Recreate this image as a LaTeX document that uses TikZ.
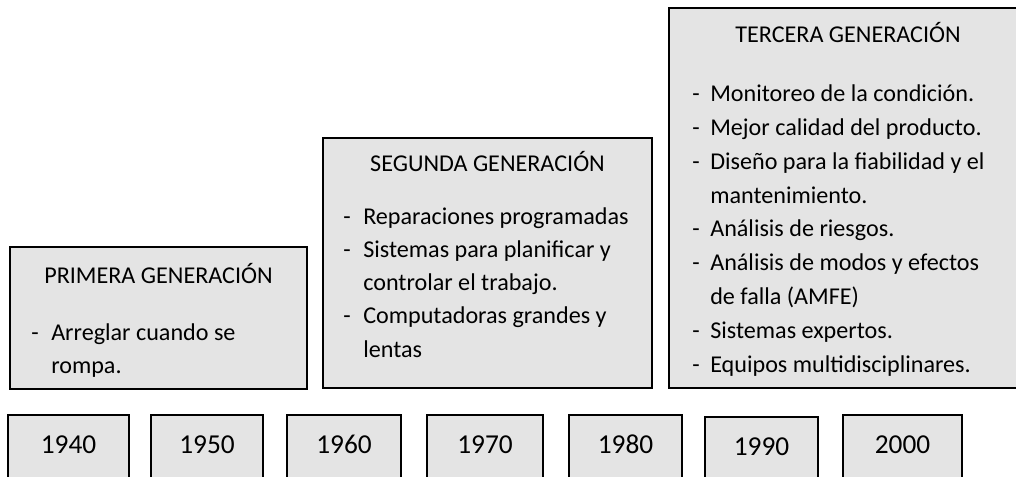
\documentclass[tikz,border=0pt]{standalone}
\usepackage{fontspec}
\setmainfont{Carlito}
\definecolor{boxfill}{RGB}{228,228,228}
\begin{document}
\begin{tikzpicture}[x=0.75pt,y=-0.75pt,
  gbox/.style={draw=black,line width=1.5pt,fill=boxfill},
  txt/.style={font=\fontsize{18.1}{21}\selectfont,inner sep=0pt,anchor=base west},
  ttl/.style={font=\fontsize{18.1}{21}\selectfont,inner sep=0pt,anchor=base},
  yr/.style={font=\fontsize{20.5}{24}\selectfont,inner sep=0pt,anchor=base}]
\clip (0,0) rectangle (1016,477);
\fill[white] (0,0) rectangle (1016,477);

% generation boxes
\draw[gbox] (10,247) rectangle (307,389);
\draw[gbox] (323,138) rectangle (652,388);
\draw[gbox] (669,8) rectangle (1040,388);

% Primera
\node[ttl] (p0) at (158.5,283) {PRIMERA GENERACIÓN};
\node[txt] (pd1) at (31,340) {-};
\node[txt] (p1) at (51,340) {Arreglar cuando se};
\node[txt] (p2) at (51,373) {rompa.};

% Segunda
\node[ttl] (s0) at (487.5,172) {SEGUNDA GENERACIÓN};
\node[txt] (sd1) at (343,224) {-};
\node[txt] (s1) at (363,224) {Reparaciones programadas};
\node[txt] (sd2) at (343,257.3) {-};
\node[txt] (s2) at (363,257.3) {Sistemas para planificar y};
\node[txt] (s3) at (363,290.6) {controlar el trabajo.};
\node[txt] (sd4) at (343,323.9) {-};
\node[txt] (s4) at (363,323.9) {Computadoras grandes y};
\node[txt] (s5) at (363,357.2) {lentas};

% Tercera
\node[ttl] (t0) at (848,43) {TERCERA GENERACIÓN};
\foreach \i/\d/\s in {0/1/Monitoreo de la condición.,
                       1/1/Mejor calidad del producto.,
                       2/1/Diseño para la fiabilidad y el,
                       3/0/mantenimiento.,
                       4/1/Análisis de riesgos.,
                       5/1/Análisis de modos y efectos,
                       6/0/de falla (AMFE),
                       7/1/Sistemas expertos.,
                       8/1/Equipos multidisciplinares.}{
  \pgfmathsetmacro{\yy}{101.7+33.8*\i}
  \node[txt] (t\i) at (710,\yy) {\s};
  \ifnum\d=1 \node[txt] (td\i) at (692,\yy) {-};\fi
}

% year boxes
\foreach \n/\l/\r/\t/\b in {1940/8/129/415/453,
                            1950/151/263/415/453,
                            1960/287/401/415/453,
                            1970/427/543/415/453,
                            1980/569/682/415/453,
                            1990/705/818/417/455,
                            2000/843/962/415/453}{
  \draw[gbox] (\l,\t) rectangle (\r,500);
  \node[yr] (y\n) at ({(\l+\r)/2},\b) {\n};
}
\end{tikzpicture}
\end{document}
